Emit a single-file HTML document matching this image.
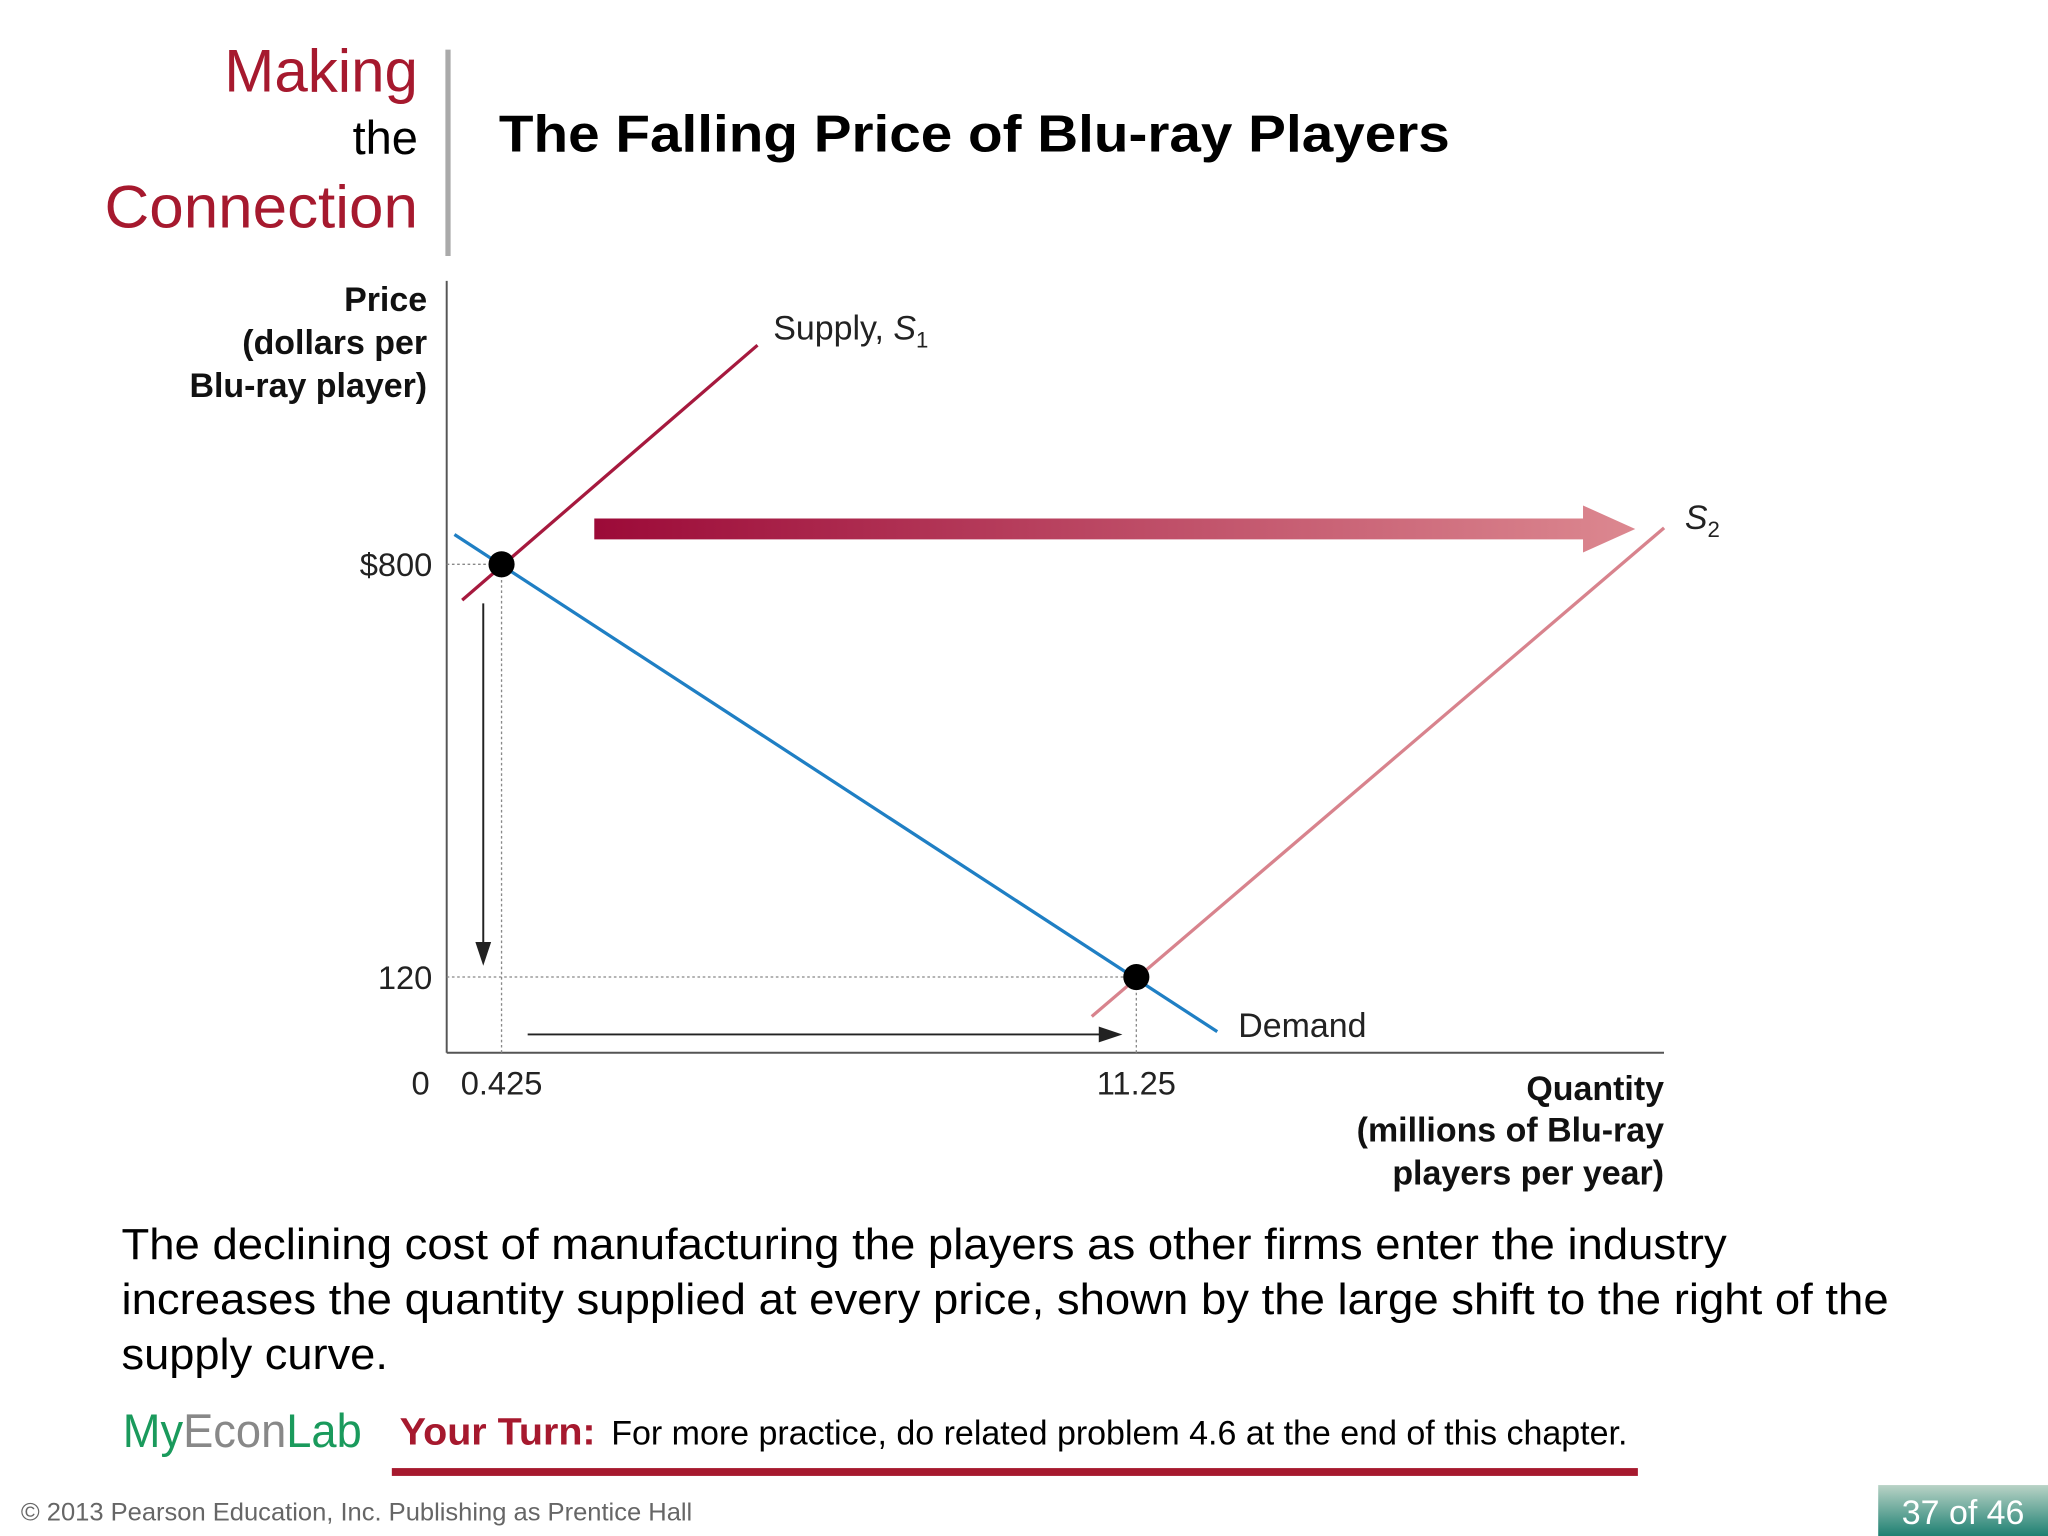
<!DOCTYPE html>
<html><head><meta charset="utf-8"><style>
html,body{margin:0;padding:0;background:#fff}
svg{display:block}
text{font-family:"Liberation Sans",sans-serif}
</style></head><body>
<svg width="2048" height="1536" viewBox="0 0 1568 1176" xmlns="http://www.w3.org/2000/svg">
<defs>
<linearGradient id="ag" x1="0" x2="1" y1="0" y2="0"><stop offset="0" stop-color="#9c0a38"/><stop offset="1" stop-color="#dc8890"/></linearGradient>
<linearGradient id="pg" x1="0" x2="0" y1="0" y2="1"><stop offset="0" stop-color="#b9d3c6"/><stop offset="1" stop-color="#1e8072"/></linearGradient>
</defs>
<g>
<text x="320" y="70" text-anchor="end" font-size="46" fill="#a6192e">Making</text>
<text x="320" y="118" text-anchor="end" font-size="36" fill="#000">the</text>
<text x="80" y="174" font-size="46" fill="#a6192e" textLength="240" lengthAdjust="spacingAndGlyphs">Connection</text>
<rect x="341" y="38" width="4" height="158" fill="#aaa"/>
<text x="382" y="116" font-size="40" font-weight="bold" fill="#000" textLength="728" lengthAdjust="spacingAndGlyphs">The Falling Price of Blu-ray Players</text>
</g>
<g id="chart"></g>
<g>
<text font-size="33" fill="#000"><tspan x="93" y="964" textLength="1229" lengthAdjust="spacingAndGlyphs">The declining cost of manufacturing the players as other firms enter the industry</tspan><tspan x="93" y="1006" textLength="1353" lengthAdjust="spacingAndGlyphs">increases the quantity supplied at every price, shown by the large shift to the right of the</tspan><tspan x="93" y="1048" textLength="204" lengthAdjust="spacingAndGlyphs">supply curve.</tspan></text>
<text x="94" y="1108" font-size="36" textLength="183" lengthAdjust="spacingAndGlyphs"><tspan fill="#1a9a5c">My</tspan><tspan fill="#888">Econ</tspan><tspan fill="#1a9a5c">Lab</tspan></text>
<text x="306" y="1106" font-size="29" font-weight="bold" fill="#a6192e" textLength="150" lengthAdjust="spacingAndGlyphs">Your Turn:</text>
<text x="468" y="1106" font-size="26" fill="#000" textLength="778" lengthAdjust="spacingAndGlyphs">For more practice, do related problem 4.6 at the end of this chapter.</text>
<rect x="300" y="1124" width="954" height="6" fill="#a6192e"/>
<text x="16" y="1164" font-size="19" fill="#666" textLength="514" lengthAdjust="spacingAndGlyphs">© 2013 Pearson Education, Inc. Publishing as Prentice Hall</text>
<rect x="1438" y="1137" width="130" height="39" fill="url(#pg)"/>
<text x="1503" y="1167" text-anchor="middle" font-size="26" fill="#fff">37 of 46</text>
</g>
</svg>
<script>
const qTicks=[0,0.425,11.25];
const qTickLabels=["0","0.425","11.25"];
const pTicks=[800,120];
const pTickLabels=["$800","120"];
const supply1Q=[0.12,4.79];
const supply1P=[741,1161];
const demandQ=[0.06,12.63];
const demandP=[849,30];
const supply2Q=[10.49,20.25];
const supply2P=[55,860];
const eqQ=[0.425,11.25];
const eqP=[800,120];
(function(){
const NS="http://www.w3.org/2000/svg";
const g=document.getElementById('chart');
function xs(q){ if(q <= 0.425) return 342+q*(42/0.425); return 384+(q-0.425)*(486/10.825); }
function ys(p){ return 803.8-p*(316/680); }
function mk(t,a,parent){const e=document.createElementNS(NS,t);for(const k in a)e.setAttribute(k,a[k]);(parent||g).appendChild(e);return e;}
let e;
e=mk('line',{x1:342,y1:215,x2:342,y2:806,stroke:'#555','stroke-width':1.5});


e=mk('line',{x1:342,y1:806,x2:1274,y2:806,stroke:'#555','stroke-width':1.5});


for(let i=0;i < eqQ.length;i++){
 const x=xs(eqQ[i]),y=ys(eqP[i]);
 e=mk('line',{x1:342,y1:y,x2:x,y2:y,stroke:'#888','stroke-width':1,'stroke-dasharray':'2,2'});
 
 
 e=mk('line',{x1:x,y1:y,x2:x,y2:806,stroke:'#888','stroke-width':1,'stroke-dasharray':'2,2'});
 
 
}
for(let i=0;i < pTicks.length;i++){
 e=mk('text',{x:331,y:ys(pTicks[i])+9,'text-anchor':'end','font-size':25,fill:'#222'});
 e.textContent=pTickLabels[i];
 
 
}
for(let i=0;i < qTicks.length;i++){
 const x=xs(qTicks[i]);
 e=mk('text',{x:i==0?322:x,y:838,'text-anchor':'middle','font-size':25,fill:'#222'});
 e.textContent=qTickLabels[i];
 
 
}
e=mk('line',{x1:xs(demandQ[0]),y1:ys(demandP[0]),x2:xs(demandQ[1]),y2:ys(demandP[1]),stroke:'#1f7fc4','stroke-width':2.5});


e=mk('line',{x1:xs(supply1Q[0]),y1:ys(supply1P[0]),x2:xs(supply1Q[1]),y2:ys(supply1P[1]),stroke:'#a6193e','stroke-width':2.5});


e=mk('line',{x1:xs(supply2Q[0]),y1:ys(supply2P[0]),x2:xs(supply2Q[1]),y2:ys(supply2P[1]),stroke:'#d8838d','stroke-width':2.5});


e=mk('path',{d:'M455,397 H1212 V387 L1252,405 L1212,423 V413 H455 Z',fill:'url(#ag)'});


e=mk('path',{d:'M370,462 V728 M365,722 L370,737 L375,722 Z',stroke:'#222','stroke-width':1.5,fill:'#222'});


e=mk('path',{d:'M404,792 H848 M842,787 L857,792 L842,797 Z',stroke:'#222','stroke-width':1.5,fill:'#222'});


for(let i=0;i < eqQ.length;i++){
 e=mk('circle',{cx:xs(eqQ[i]),cy:ys(eqP[i]),r:10,fill:'#000'});
 
 
}
e=mk('text',{x:592,y:260,'font-size':26,fill:'#222'});
e.innerHTML='Supply, <tspan font-style="italic">S</tspan><tspan font-size="17" dy="6">1</tspan>';


e=mk('text',{x:1290,y:405,'font-size':26,fill:'#222'});
e.innerHTML='<tspan font-style="italic">S</tspan><tspan font-size="17" dy="6">2</tspan>';


e=mk('text',{x:948,y:794,'font-size':26,fill:'#222'});
e.textContent='Demand';


e=mk('text',{'font-size':26,'font-weight':'bold',fill:'#111','text-anchor':'end'});
e.innerHTML='<tspan x="327" y="238">Price</tspan><tspan x="327" y="271">(dollars per</tspan><tspan x="327" y="304">Blu-ray player)</tspan>';


e=mk('text',{'font-size':26,'font-weight':'bold',fill:'#111','text-anchor':'end'});
e.innerHTML='<tspan x="1274" y="842">Quantity</tspan><tspan x="1274" y="874">(millions of Blu-ray</tspan><tspan x="1274" y="907">players per year)</tspan>';


})();
</script>
</body></html>
